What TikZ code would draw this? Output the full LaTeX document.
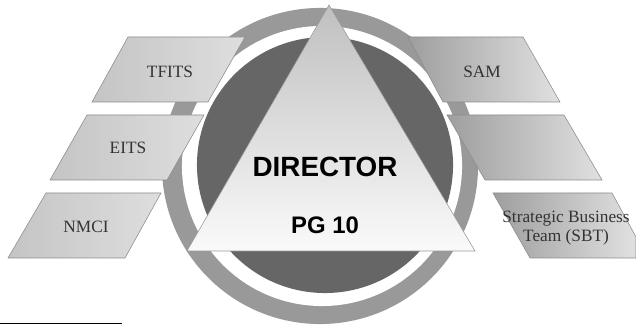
\documentclass[tikz,border=0pt]{standalone}
\usepackage{fontspec}
\setmainfont{Liberation Serif}
\newfontfamily\headfont{Liberation Sans}
\usetikzlibrary{positioning,calc}

\tikzset{
  panel/.style={draw=black!45, line width=0.4pt},
  leftpanel/.style={panel, left color=black!23, right color=black!13},
  rightpanel/.style={panel, left color=black!38, right color=black!12},
  paneltext/.style={font=\fontsize{12.3}{13}\selectfont, text=black!80, align=center, inner sep=0pt},
  bigtext/.style={font=\headfont\bfseries\fontsize{19.8}{22}\selectfont, inner sep=0pt},
  smalltext/.style={font=\headfont\bfseries\fontsize{17}{19}\selectfont, inner sep=0pt}
}

\begin{document}
\begin{tikzpicture}[x=0.025cm, y=-0.025cm]
            \useasboundingbox (0,0) rectangle (636,326);

            % ring behind the triangle
            \fill[black!40] (320,166) circle [radius=3.95cm];
            \fill[white] (322,166) circle [radius=3.5cm];
            \fill[black!60] (325,165) circle [radius=3.2cm];

            % triangle
            \coordinate (apex) at (329,5);
            \coordinate (baseL) at (187,251);
            \coordinate (baseR) at (475,251);
            \draw[draw=black!40, line width=0.4pt, top color=black!25, bottom color=black!2] (apex) -- (baseR) -- (baseL) -- cycle;
            \node[bigtext] (director) at (325,167) {DIRECTOR};
            \node[smalltext] (pg) at (325,225) {PG 10};

            % panels on the left
            \draw[leftpanel] (92,102) -- (128,37) -- (245,37) -- (208,102) -- cycle;
            \node[paneltext] (tfits) at (170,72) {TFITS};
            \draw[leftpanel] (50,180) -- (87,115) -- (204,115) -- (167,180) -- cycle;
            \node[paneltext] (eits) at (128,148) {EITS};
            \draw[leftpanel] (8,258) -- (46,193) -- (161,193) -- (125,258) -- cycle;
            \node[paneltext] (nmci) at (86,227) {NMCI};

            % panels on the right
            \draw[rightpanel] (408,37) -- (523,37) -- (560,102) -- (443,102) -- cycle;
            \node[paneltext] (sam) at (482,72) {SAM};
            \draw[rightpanel] (447,115) -- (564,115) -- (602,180) -- (485,180) -- cycle;
            \coordinate (empty) at (525,148);
            \draw[rightpanel] (493,193) -- (612,193) -- (636,237) -- (636,258) -- (530,258) -- cycle;
            \node[paneltext] (sbt) at (566,228) {Strategic Business\\Team (SBT)};

            % footnote rule
            \coordinate (ruleL) at (0,323.5);
            \coordinate (ruleR) at (122,323.5);
            \draw[line width=0.8pt] (ruleL) -- (ruleR);
        \end{tikzpicture}
\end{document}
